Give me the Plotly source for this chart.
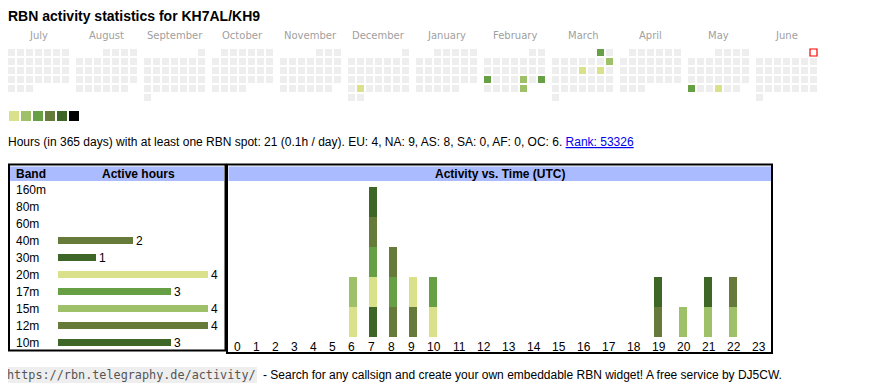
import calendar
import numpy as np
import plotly.graph_objects as go

# The page body has an 8px default margin: the figure is drawn 8px in from the
# top-left corner, so the figure is sized to fill the rest of the window.
OFF = 8
W, H = 870 - OFF, 390 - OFF

# ---------------- data ----------------
TITLE = "RBN activity statistics for KH7AL/KH9"
SUMMARY = ("Hours (in 365 days) with at least one RBN spot: 21 (0.1h / day). "
           "EU: 4, NA: 9, AS: 8, SA: 0, AF: 0, OC: 6. ")
RANK_TEXT = "Rank: 53326"
FOOTER_URL = "https://rbn.telegraphy.de/activity/"
FOOTER_TEXT = ("- Search for any callsign and create your own embeddable RBN widget! "
               "A free service by DJ5CW.")

MONTH_NAMES = ["July", "August", "September", "October", "November", "December",
               "January", "February", "March", "April", "May", "June"]
FIRST_YEAR, FIRST_MONTH = 2024, 7
ACTIVE_DAYS = ["2024-12-24", "2025-02-17", "2025-02-21", "2025-02-23", "2025-02-28",
               "2025-03-01", "2025-03-09", "2025-03-13", "2025-03-15",
               "2025-05-26", "2025-05-29"]
ACTIVE_LEVELS = [1, 3, 2, 3, 2, 3, 2, 1, 1, 3, 1]
TODAY = "2025-06-01"
LEVEL_COLORS = ["#d9e18a", "#9dc069", "#67a044", "#667a3a", "#3d6627", "#000000"]
EMPTY_COLOR = "#eeeeee"

BANDS = ["160m", "80m", "60m", "40m", "30m", "20m", "17m", "15m", "12m", "10m"]
BAND_TOTALS = [0, 0, 0, 2, 1, 4, 3, 4, 4, 3]
BAND_COLORS = ["#d9e18a", "#9dc069", "#67a044", "#667a3a", "#3d6627",
               "#d9e18a", "#67a044", "#9dc069", "#667a3a", "#3d6627"]

HOURS = list(range(24))
HOURS_160M = []
HOURS_80M = []
HOURS_60M = []
HOURS_40M = [8, 9]
HOURS_30M = [7]
HOURS_20M = [6, 7, 9, 10]
HOURS_17M = [7, 8, 10]
HOURS_15M = [6, 20, 21, 22]
HOURS_12M = [7, 8, 19, 22]
HOURS_10M = [7, 19, 21]
BAND_ACTIVE_HOURS = [HOURS_160M, HOURS_80M, HOURS_60M, HOURS_40M, HOURS_30M,
                     HOURS_20M, HOURS_17M, HOURS_15M, HOURS_12M, HOURS_10M]

# ---------------- style ----------------
SANS = "Liberation Sans, Arial, sans-serif"
HEAD_BLUE = "#aabbff"
CELL = 9.0            # calendar pitch (px)
MONTH_PITCH = 68 / 9  # month block pitch in cell units
CAL_X0, CAL_Y0 = 11.5 - OFF, 52.5 - OFF   # centre of first calendar cell (figure px)


def px(x):
    return (x - OFF) / W


def py(y):
    return 1 - (y - OFF) / H


fig = go.Figure()

# ---------------- calendar ----------------
active = dict(zip(ACTIVE_DAYS, ACTIVE_LEVELS))
cx, cy, cc = [], [], []
tx, ty = None, None
for m in range(12):
    yr = FIRST_YEAR + (FIRST_MONTH - 1 + m) // 12
    mo = (FIRST_MONTH - 1 + m) % 12 + 1
    first_wd, ndays = calendar.monthrange(yr, mo)
    for d in range(1, ndays + 1):
        idx = first_wd + d - 1
        key = f"{yr:04d}-{mo:02d}-{d:02d}"
        xx, yy = m * MONTH_PITCH + idx % 7, idx // 7
        if key == TODAY:
            tx, ty = xx, yy
            continue
        cx.append(xx)
        cy.append(yy)
        lvl = active.get(key)
        cc.append(LEVEL_COLORS[lvl - 1] if lvl else EMPTY_COLOR)

fig.add_trace(go.Scatter(x=cx, y=cy, mode="markers", hoverinfo="skip",
                         marker=dict(symbol="square", size=7, color=cc, line_width=0),
                         xaxis="x", yaxis="y"))
if tx is not None:
    fig.add_trace(go.Scatter(x=[tx], y=[ty], mode="markers", hoverinfo="skip",
                             marker=dict(symbol="square", size=7, color="white",
                                         line=dict(color="#ff0000", width=1.2)),
                             xaxis="x", yaxis="y"))

# legend squares
fig.add_trace(go.Scatter(x=list(range(len(LEVEL_COLORS))), y=[0] * len(LEVEL_COLORS),
                         mode="markers", hoverinfo="skip",
                         marker=dict(symbol="square", size=10, color=LEVEL_COLORS, line_width=0),
                         xaxis="x4", yaxis="y4"))

# ---------------- band table bars ----------------
fig.add_trace(go.Bar(y=BANDS, x=BAND_TOTALS, orientation="h", width=0.42,
                     marker=dict(color=BAND_COLORS, line_width=0),
                     text=[str(v) if v else "" for v in BAND_TOTALS],
                     textposition="outside", constraintext="none", cliponaxis=False,
                     textfont=dict(family=SANS, size=12, color="black"),
                     hoverinfo="skip", xaxis="x2", yaxis="y2"))

# ---------------- activity vs time ----------------
hour_tot = np.zeros(24)
for hrs in BAND_ACTIVE_HOURS:
    for h in hrs:
        hour_tot[h] += 1
# html-table-like column widths: wider for two-digit labels / cells holding a bar
col_w = np.array([(19 + (1 if hour_tot[h] > 0 else 0)) if h < 10 else 25 for h in HOURS], float)
col_left = np.cumsum(col_w) - col_w
col_center = col_left + col_w / 2
bar_x = col_left + 10.5
TABLE_LEFT = 227.5
TOTAL_W = col_w.sum()

for b, hrs in enumerate(BAND_ACTIVE_HOURS):
    if not hrs:
        continue
    yv = [1 if h in hrs else 0 for h in HOURS]
    fig.add_trace(go.Bar(x=bar_x, y=yv, width=8, marker=dict(color=BAND_COLORS[b], line_width=0),
                         hoverinfo="skip", xaxis="x3", yaxis="y3"))

# ---------------- layout ----------------
noax = dict(visible=False, showgrid=False, zeroline=False, fixedrange=True)
fig.update_layout(
    width=W, height=H, margin=dict(l=0, r=0, t=0, b=0),
    paper_bgcolor="white", plot_bgcolor="rgba(0,0,0,0)",
    showlegend=False, barmode="stack", bargap=0,
    xaxis=dict(noax, domain=[0, 1], range=[-CAL_X0 / CELL, (W - CAL_X0) / CELL]),
    yaxis=dict(noax, domain=[0, 1], range=[(H - CAL_Y0) / CELL, -CAL_Y0 / CELL]),
    xaxis4=dict(noax, domain=[px(8), px(80)], range=[-0.5, 5.5]),
    yaxis4=dict(noax, domain=[py(122), py(110)], range=[-0.5, 0.5]),
    xaxis2=dict(noax, domain=[px(58), px(208)], range=[0, 4]),
    yaxis2=dict(noax, type="category", categoryorder="array", categoryarray=BANDS,
                domain=[py(351), py(181)], range=[9.5, -0.5]),
    xaxis3=dict(noax, domain=[px(TABLE_LEFT), px(TABLE_LEFT + TOTAL_W)], range=[0, TOTAL_W]),
    yaxis3=dict(noax, domain=[py(337), py(187)], range=[0, 5]),
)

shapes = []
# header fills
shapes.append(dict(type="rect", xref="paper", yref="paper", x0=px(10), x1=px(224),
                   y0=py(181), y1=py(166.5), fillcolor=HEAD_BLUE, line_width=0, layer="below"))
shapes.append(dict(type="rect", xref="paper", yref="paper", x0=px(228.5), x1=px(771),
                   y0=py(181), y1=py(166.5), fillcolor=HEAD_BLUE, line_width=0, layer="below"))
# borders
shapes.append(dict(type="rect", xref="paper", yref="paper", x0=px(9), x1=px(225.5),
                   y0=py(350.5), y1=py(164.5), line=dict(color="black", width=2)))
shapes.append(dict(type="rect", xref="paper", yref="paper", x0=px(227), x1=px(772),
                   y0=py(353), y1=py(164.5), line=dict(color="black", width=2)))
fig.update_layout(shapes=shapes)

ann = []


def text(x, y, s, size=12, color="black", xanchor="left", family=SANS, xref="paper", yref="paper", **kw):
    ann.append(dict(x=x, y=y, xref=xref, yref=yref, text=s, showarrow=False,
                    xanchor=xanchor, yanchor="middle", borderpad=0, borderwidth=0,
                    font=dict(family=family, size=size, color=color), **kw))


text(px(8), py(16), "<b>" + TITLE + "</b>", size=14)
for m, name in enumerate(MONTH_NAMES):
    text(m * MONTH_PITCH + 3, py(35.5), name, size=10, color="#a0a0a0",
         xanchor="center", family="DejaVu Sans", xref="x")
text(px(8), py(142), SUMMARY + "<a href='https://rbn.telegraphy.de/activity/KH7AL/KH9' "
     "style='color:#0000ee'><u>" + RANK_TEXT + "</u></a>", size=12)

# table headers
text(px(16), py(174), "<b>Band</b>", size=12)
text(px(138), py(174), "<b>Active hours</b>", size=12, xanchor="center")
text(px(499.5), py(174), "<b>Activity vs. Time (UTC)</b>", size=12, xanchor="center")
for b in BANDS:
    text(px(16), b, b, size=12, yref="y2")
for h in HOURS:
    text(col_center[h], py(346.5), str(h), size=12, xanchor="center", xref="x3")

# footer
ann.append(dict(x=px(6), y=py(374.5), xref="paper", yref="paper", text=FOOTER_URL,
                showarrow=False, xanchor="left", yanchor="middle", bgcolor="#eeeeee",
                borderpad=1, borderwidth=0,
                font=dict(family="DejaVu Sans Mono", size=11.8, color="#555555")))
text(px(263), py(374.5), FOOTER_TEXT, size=12)

fig.update_layout(annotations=ann)
fig.write_html("out.html")
